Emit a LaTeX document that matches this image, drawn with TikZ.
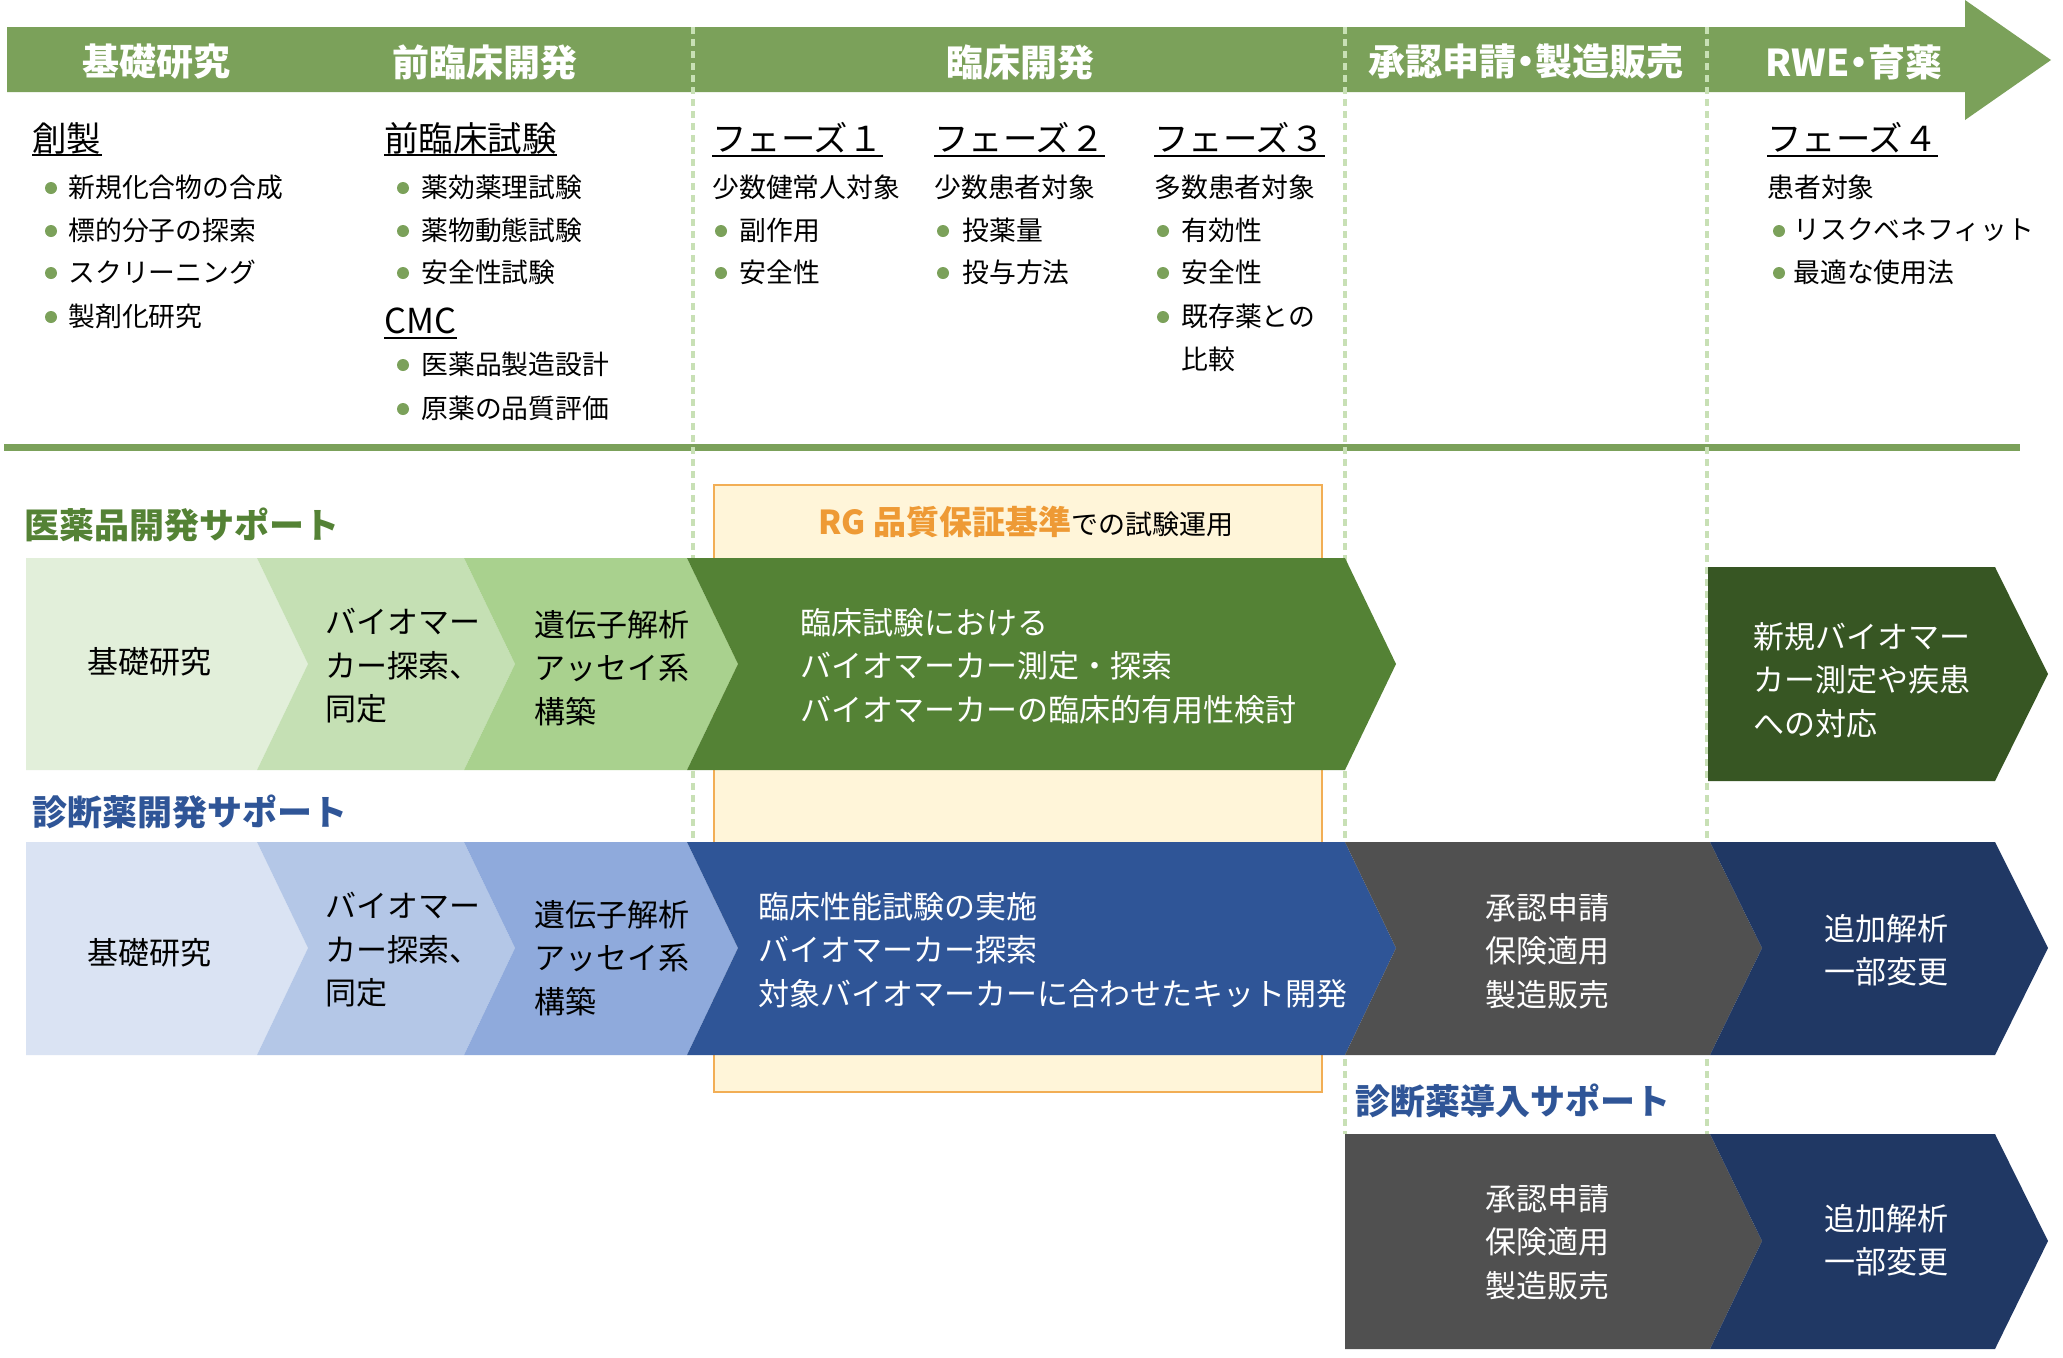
\documentclass[tikz,border=0pt]{standalone}
\usepackage{fontspec}
\setmainfont{Noto Sans CJK JP}
\usetikzlibrary{calc}
\definecolor{hdrgreen}{HTML}{7BA15A}
\definecolor{dashgreen}{HTML}{C8E0B5}
\definecolor{gA}{HTML}{E2EFDA}
\definecolor{gB}{HTML}{C5E0B4}
\definecolor{gC}{HTML}{A9D18E}
\definecolor{gD}{HTML}{548235}
\definecolor{gE}{HTML}{375623}
\definecolor{bA}{HTML}{DAE3F3}
\definecolor{bB}{HTML}{B4C7E7}
\definecolor{bC}{HTML}{8FAADC}
\definecolor{bD}{HTML}{2F5597}
\definecolor{bE}{HTML}{203864}
\definecolor{grayD}{HTML}{505050}
\definecolor{rgfill}{HTML}{FFF5D9}
\definecolor{rgline}{HTML}{F2AE55}
\definecolor{rgtext}{HTML}{EE9A35}
\newcommand\fsz[2]{\fontsize{#1}{#2}\selectfont}
\newcommand\bitem[5]{%
  \fill[hdrgreen] (#2,#4+1) circle[radius=3pt];
  \node[itm] (#1) at (#3,#4) {#5};}
\begin{document}
\begin{tikzpicture}[x=0.5pt,y=-0.5pt,
  hdr/.style={text=white,font=\fsz{18.5}{22}\bfseries,inner sep=0},
  ttl/.style={font=\fsz{17.2}{20},inner sep=0,anchor=west},
  itm/.style={font=\fsz{13.4}{16},inner sep=0,anchor=west},
  rowtxt/.style={font=\fsz{15.5}{21.75},align=left,inner sep=0,anchor=west},
  rowctr/.style={font=\fsz{15.5}{21.75},align=center,inner sep=0},
  sec/.style={font=\fsz{17.5}{20}\bfseries,inner sep=0,anchor=west},
  uline/.style={line width=1pt,black},
  vdash/.style={dashgreen,line width=2pt,dash pattern=on 3.5pt off 2.5pt}]
\useasboundingbox (0,0) rectangle (2063,1357);
\fill[white] (0,0) rectangle (2063,1357);
% header bar
\fill[hdrgreen] (7,27) -- (1965,27) -- (1965,0) -- (2051,60) -- (1965,120) -- (1965,92) -- (7,92) -- cycle;
\draw[hdrgreen,line width=3.5pt] (4,447) -- (2020,447);
\draw[vdash] (693,27) -- (693,842);
\draw[vdash] (1345,27) -- (1345,1134);
\draw[vdash] (1707,27) -- (1707,1134);
\node[hdr] (h1) at (157,62) {基礎研究};
\node[hdr] (h2) at (485,62) {前臨床開発};
\node[hdr] (h3) at (1020,62) {臨床開発};
\node[hdr] (h4) at (1526,62) {承認申請{\addfontfeatures{RawFeature=+palt}・}製造販売};
\node[hdr] (h5) at (1854,62) {RWE{\addfontfeatures{RawFeature=+palt}・}育薬};
% titles
\node[ttl] (t1) at (32,138) {創製};
\node[ttl] (t2) at (384,138) {前臨床試験};
\node[ttl] (t3) at (384,321) {CMC};
\node[ttl] (t4) at (712,138) {フェーズ１};
\node[ttl] (t5) at (934,138) {フェーズ２};
\node[ttl] (t6) at (1154,138) {フェーズ３};
\node[ttl] (t7) at (1767,138) {フェーズ４};
\foreach \t in {t1,t2,t3,t4,t5,t6,t7}
  \draw[uline] ($(\t.base west)+(0,4)$) -- ($(\t.base east)+(0,4)$);
% items
\bitem{a1}{51}{68}{187}{新規化合物の合成}
\bitem{a2}{51}{68}{230}{標的分子の探索}
\bitem{a3}{51}{68}{272}{スクリーニング}
\bitem{a4}{51}{68}{316}{製剤化研究}
\bitem{b1}{403}{421}{187}{薬効薬理試験}
\bitem{b2}{403}{421}{230}{薬物動態試験}
\bitem{b3}{403}{421}{272}{安全性試験}
\bitem{b4}{403}{421}{364}{医薬品製造設計}
\bitem{b5}{403}{421}{408}{原薬の品質評価}
\node[itm] (c0) at (712,187) {少数健常人対象};
\bitem{c1}{721}{739}{230}{副作用}
\bitem{c2}{721}{739}{272}{安全性}
\node[itm] (d0) at (934,187) {少数患者対象};
\bitem{d1}{943}{962}{230}{投薬量}
\bitem{d2}{943}{962}{272}{投与方法}
\node[itm] (e0) at (1154,187) {多数患者対象};
\bitem{e1}{1163}{1181}{230}{有効性}
\bitem{e2}{1163}{1181}{272}{安全性}
\bitem{e3}{1163}{1181}{316}{既存薬との}
\node[itm] (e4) at (1181,359) {比較};
\node[itm] (f0) at (1767,187) {患者対象};
\bitem{f1}{1779}{1793}{230}{リスクベネフィット}
\bitem{f2}{1779}{1793}{272}{最適な使用法}
% RG box
\filldraw[fill=rgfill,draw=rgline,line width=1.2pt] (714,485) rectangle (1322,1092);
\node[inner sep=0] (rg) at (1026,522) {{\color{rgtext}\bfseries\fsz{16.5}{20}RG 品質保証基準}{\fsz{13.5}{16}での試験運用}};
% section labels
\node[sec,text=gD] (s1) at (24,525) {医薬品開発サポート};
\node[sec,text=bD] (s2) at (32,812) {診断薬開発サポート};
\node[sec,text=bD] (s3) at (1355,1101) {診断薬導入サポート};
% green row
\fill[gA] (26,558) -- (257,558) -- (308,664) -- (257,770) -- (26,770) -- cycle;
\fill[gB] (257,558) -- (464,558) -- (515,664) -- (464,770) -- (257,770) -- (308,664) -- cycle;
\fill[gC] (464,558) -- (687,558) -- (738,664) -- (687,770) -- (464,770) -- (515,664) -- cycle;
\fill[gD] (687,558) -- (1345,558) -- (1396,664) -- (1345,770) -- (687,770) -- (738,664) -- cycle;
\fill[gE] (1708,567) -- (1995,567) -- (2048,674) -- (1995,781) -- (1708,781) -- cycle;
\node[rowctr] (g1) at (149,662) {基礎研究};
\node[rowtxt] (g2) at (325,666) {バイオマー\\カー探索、\\同定};
\node[rowtxt] (g3) at (534,668) {遺伝子解析\\アッセイ系\\構築};
\node[rowtxt,text=white] (g4) at (800,666) {臨床試験における\\バイオマーカー測定・探索\\バイオマーカーの臨床的有用性検討};
\node[rowtxt,text=white] (g5) at (1753,680) {新規バイオマー\\カー測定や疾患\\への対応};
% blue row
\fill[bA] (26,842) -- (257,842) -- (308,948) -- (257,1055) -- (26,1055) -- cycle;
\fill[bB] (257,842) -- (464,842) -- (515,948) -- (464,1055) -- (257,1055) -- (308,948) -- cycle;
\fill[bC] (464,842) -- (687,842) -- (738,948) -- (687,1055) -- (464,1055) -- (515,948) -- cycle;
\fill[bD] (687,842) -- (1345,842) -- (1396,948) -- (1345,1055) -- (687,1055) -- (738,948) -- cycle;
\fill[grayD] (1345,842) -- (1710,842) -- (1762,948) -- (1710,1055) -- (1345,1055) -- (1396,948) -- cycle;
\fill[bE] (1710,842) -- (1995,842) -- (2048,948) -- (1995,1055) -- (1710,1055) -- (1762,948) -- cycle;
\node[rowctr] (k1) at (149,953) {基礎研究};
\node[rowtxt] (k2) at (325,950) {バイオマー\\カー探索、\\同定};
\node[rowtxt] (k3) at (534,958) {遺伝子解析\\アッセイ系\\構築};
\node[rowtxt,text=white] (k4) at (758,950) {臨床性能試験の実施\\バイオマーカー探索\\対象バイオマーカーに合わせたキット開発};
\node[rowctr,text=white] (k5) at (1547,951) {承認申請\\保険適用\\製造販売};
\node[rowctr,text=white] (k6) at (1886,950) {追加解析\\一部変更};
% bottom row
\fill[grayD] (1345,1134) -- (1710,1134) -- (1762,1241) -- (1710,1349) -- (1345,1349) -- cycle;
\fill[bE] (1710,1134) -- (1995,1134) -- (2048,1241) -- (1995,1349) -- (1710,1349) -- (1762,1241) -- cycle;
\node[rowctr,text=white] (m1) at (1547,1242) {承認申請\\保険適用\\製造販売};
\node[rowctr,text=white] (m2) at (1886,1240) {追加解析\\一部変更};
\end{tikzpicture}
\end{document}
